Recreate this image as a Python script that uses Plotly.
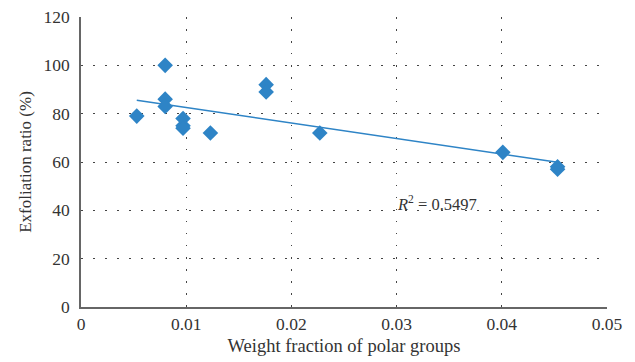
import numpy as np
import plotly.graph_objects as go

# Data
weight_fraction = [0.0053, 0.0080, 0.0080, 0.0080, 0.0097, 0.0097, 0.0097,
                   0.0123, 0.0176, 0.0176, 0.0227, 0.0401, 0.0453, 0.0453]
exfoliation_ratio = [79, 100, 86, 83, 78, 75, 74,
                     72, 92, 89, 72, 64, 58, 57]
r2_label = "<i>R</i><sup>2</sup> = 0.5497"
x_ticks = [0, 0.01, 0.02, 0.03, 0.04, 0.05]
x_tick_text = ["0", "0.01", "0.02", "0.03", "0.04", "0.05"]
y_ticks = [0, 20, 40, 60, 80, 100, 120]

blue = "#2E84C6"

slope, intercept = np.polyfit(weight_fraction, exfoliation_ratio, 1)
x_fit = [min(weight_fraction), max(weight_fraction)]
y_fit = [slope * v + intercept for v in x_fit]

fig = go.Figure()
fig.add_trace(go.Scatter(x=x_fit, y=y_fit, mode="lines",
                         line=dict(color=blue, width=1.5), hoverinfo="skip"))
fig.add_trace(go.Scatter(x=weight_fraction, y=exfoliation_ratio, mode="markers",
                         marker=dict(symbol="diamond", size=12, color=blue)))

font_family = "Liberation Serif, Times New Roman, serif"
grid_dash = "1.5px,10.5px"
text_color = "#333333"

fig.update_layout(
    width=627, height=354,
    margin=dict(l=73, r=28, t=9, b=55, autoexpand=False),
    paper_bgcolor="white", plot_bgcolor="white",
    showlegend=False,
    font=dict(family=font_family, size=17, color=text_color),
    xaxis=dict(range=[0, 0.05], tickvals=x_ticks, ticktext=x_tick_text,
               showgrid=True, gridcolor="#444444", gridwidth=1, griddash=grid_dash,
               showline=True, linecolor="#666666", linewidth=1.5,
               zeroline=False, ticks="", ticklen=0, ticklabeloverflow="allow",
               automargin=False,
               title=dict(text="Weight fraction of polar groups", standoff=6,
                          font=dict(size=18.5)),
               tickfont=dict(size=17.5)),
    yaxis=dict(range=[0, 120], tickvals=y_ticks,
               showgrid=True, gridcolor="#444444", gridwidth=1, griddash=grid_dash,
               showline=True, linecolor="#666666", linewidth=1.5,
               zeroline=False, ticks="", ticklen=0, ticklabelstandoff=6,
               ticklabeloverflow="allow", automargin=False,
               title=dict(text="Exfoliation ratio (%)", standoff=8,
                          font=dict(size=17)),
               tickfont=dict(size=17.5)),
    annotations=[dict(x=0.0338, y=42.9, xref="x", yref="y", text=r2_label,
                      showarrow=False, font=dict(size=16.5, color=text_color))],
)

fig.write_html("out.html")
